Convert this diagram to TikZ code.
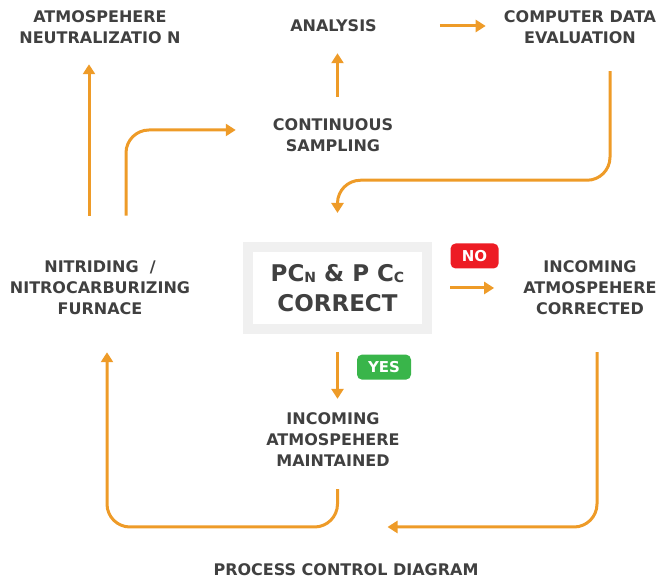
\documentclass[tikz,border=0pt]{standalone}
\usepackage{fontspec}
\setmainfont{DejaVu Sans}
\usetikzlibrary{arrows.meta, positioning, calc}
\definecolor{flowgray}{RGB}{64,64,64}
\definecolor{arroworange}{RGB}{238,155,40}
\definecolor{framegray}{RGB}{240,240,240}
\definecolor{nored}{RGB}{237,28,36}
\definecolor{yesgreen}{RGB}{57,181,74}
\newcommand{\lowidx}[1]{\raisebox{-1.5pt}{\fontsize{14}{14}\selectfont #1}}

\begin{document}
\begin{tikzpicture}[
    x=1pt, y=1pt,
    every node/.style={font=\bfseries\fontsize{16}{21}\selectfont, text=flowgray, inner sep=0pt},
    stage/.style={align=center},
    decision/.style={rectangle, minimum width=179pt, minimum height=82pt,
                     draw=framegray, line width=10pt, fill=white, align=center,
                     font=\bfseries\fontsize{23}{30}\selectfont},
    badge/.style={rectangle, rounded corners=5pt, minimum height=25pt, text=white,
                  font=\bfseries\fontsize{15}{15}\selectfont},
    arrow/.style={-{Triangle[length=10pt, width=12pt]}, draw=arroworange, line width=3pt},
    roundarrow/.style={arrow, rounded corners=23pt}
]
\useasboundingbox (0,0) rectangle (659,580);

\node (neutral) [stage] at (100,552.5) {ATMOSPEHERE\\NEUTRALIZATIO N};
\node (analysis) [stage] at (333.5,554) {ANALYSIS};
\node (computer) [stage] at (580,552.5) {COMPUTER DATA\\EVALUATION};
\node (sampling) [stage] at (333,444.5) {CONTINUOUS\\SAMPLING};
\node (check) [decision] at (337.5,292) {PC\lowidx{N} \& P C\lowidx{C}\\CORRECT};
\node (furnace) [stage] at (100,292) {NITRIDING\ \ /\\NITROCARBURIZING\\FURNACE};
\node (corrected) [stage] at (590,292) {INCOMING\\ATMOSPEHERE\\CORRECTED};
\node (maintained) [stage] at (333,140) {INCOMING\\ATMOSPEHERE\\MAINTAINED};
\node (title) [stage] at (346,10) {PROCESS CONTROL DIAGRAM};
\coordinate (merge) at (337.5,53);

\draw [arrow, shorten <=63pt, shorten >=18pt] (analysis.east) -- (analysis.east -| computer.west);
\draw [arrow, shorten <=22pt, shorten >=21pt] (sampling.north -| check) -- (analysis.south -| check);
\draw [arrow, shorten <=45pt, shorten >=20pt] ([xshift=-11pt]furnace.north) -- ([xshift=-11pt]neutral.south);
\draw [roundarrow, shorten <=45pt, shorten >=37pt] ([xshift=26pt]furnace.north) |- ([yshift=5.5pt]sampling.west);
\draw [roundarrow, shorten <=27pt, shorten >=29pt] ([xshift=30pt]computer.south) -- ++(0,-136) -| (check.north);
\draw [arrow, shorten <=18pt, shorten >=29pt] (check.east) --
    node (nobadge) [badge, fill=nored, above=18pt, xshift=-3pt, minimum width=48pt] {NO}
    (check.east -| corrected.west);
\draw [arrow, shorten <=18pt, shorten >=14pt] (check.south) --
    node (yesbadge) [badge, fill=yesgreen, right=18pt, pos=0.42, minimum width=54pt] {YES}
    (check.south |- maintained.north);
\draw [roundarrow, shorten <=22pt, shorten >=37pt] (maintained.south -| merge) -- (merge) -| ([xshift=7pt]furnace.south);
\draw [roundarrow, shorten <=37pt, shorten >=50pt] ([xshift=7pt]corrected.south) |- (merge);

\end{tikzpicture}
\end{document}
